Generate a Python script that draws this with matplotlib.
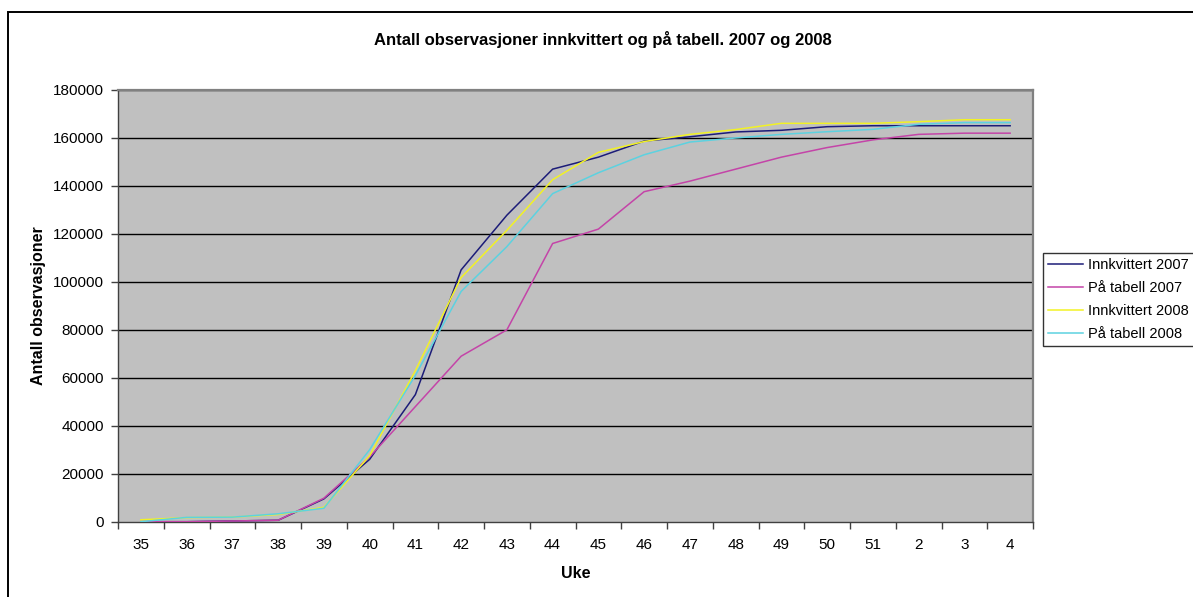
import matplotlib
matplotlib.use("Agg")
import matplotlib.pyplot as plt
from matplotlib.patches import Rectangle
from matplotlib.ticker import FixedLocator, NullFormatter

plt.rcParams['font.family'] = ['Liberation Sans', 'DejaVu Sans']

weeks = ['35', '36', '37', '38', '39', '40', '41', '42', '43', '44', '45', '46',
         '47', '48', '49', '50', '51', '2', '3', '4']
innk2007 = [0, 0, 300, 600, 9500, 26000, 53000, 105000, 127800, 147000, 152000, 158700,
            160500, 162500, 163200, 164700, 165100, 165100, 165100, 165100]
tab2007 = [0, 0, 300, 600, 9800, 27000, 48000, 69000, 80000, 116000, 122000, 137600,
           142000, 147000, 152000, 156000, 159200, 161500, 162000, 162000]
innk2008 = [800, 1700, 1900, 3000, 6000, 27500, 63000, 101800, 121500, 142600, 154000, 158500,
            161500, 163500, 166100, 166100, 166100, 166800, 167600, 167600]
tab2008 = [0, 1800, 1900, 3300, 5600, 30000, 61000, 96000, 114700, 136800, 145500, 153000,
           158300, 160000, 161500, 162600, 163600, 165700, 166400, 166400]

series = [
    ("Innkvittert 2007", innk2007, "#1c1c78"),
    ("På tabell 2007", tab2007, "#c444a8"),
    ("Innkvittert 2008", innk2008, "#f2f224"),
    ("På tabell 2008", tab2008, "#5cd2e0"),
]

W, H = 1193, 597
fig = plt.figure(figsize=(W / 100, H / 100), dpi=100)
fig.patch.set_facecolor('white')

L, R, T, B = 118, 1033, 90, 521.7
ax = fig.add_axes([L / W, 1 - B / H, (R - L) / W, (B - T) / H])
ax.set_facecolor('#c0c0c0')

x = list(range(len(weeks)))
handles = []
for i, (name, vals, col) in enumerate(series):
    h, = ax.plot(x, vals, color=col, lw=1.1, label=name, zorder=3 + i, solid_joinstyle='miter')
    handles.append(h)

ax.set_xlim(-0.5, len(weeks) - 0.5)
ax.set_ylim(0, 180000)
yt = list(range(0, 180001, 20000))
ax.set_yticks(yt)
ax.set_yticklabels([str(v) for v in yt], fontsize=11)
for v in yt[1:]:
    ax.axhline(v, color='black', lw=1.0, zorder=1)

ax.set_xticks(x)
ax.set_xticklabels(weeks, fontsize=11)
ax.tick_params(axis='x', which='major', length=0, pad=12)
ax.xaxis.set_minor_locator(FixedLocator([i - 0.5 for i in range(len(weeks) + 1)]))
ax.xaxis.set_minor_formatter(NullFormatter())
ax.tick_params(axis='x', which='minor', length=5, width=1, color='#404040', direction='out')
ax.tick_params(axis='y', length=5, width=1, color='#404040', direction='out', pad=5)

for s in ['left', 'bottom']:
    ax.spines[s].set_color('#404040')
    ax.spines[s].set_linewidth(1.0)
for s in ['top', 'right']:
    ax.spines[s].set_color('#808080')
    ax.spines[s].set_linewidth(1.6)

ax.set_xlabel('Uke', fontsize=11.5, fontweight='bold', labelpad=10)
ax.set_ylabel('Antall observasjoner', fontsize=11.5, fontweight='bold', labelpad=5)

fig.text(603 / W, 1 - 40 / H, 'Antall observasjoner innkvittert og på tabell. 2007 og 2008',
         ha='center', va='center', fontsize=12, fontweight='bold')

leg = fig.legend(handles=handles, loc='upper left', bbox_to_anchor=(1043 / W, 1 - 253 / H),
                 fontsize=10.5, frameon=True, fancybox=False, edgecolor='black',
                 handlelength=2.4, handletextpad=0.35, labelspacing=0.62, borderpad=0.35,
                 borderaxespad=0)
leg.get_frame().set_linewidth(1.0)

fig.patches.append(Rectangle((8 / W, -0.2), 1.5, 1 - 12 / H + 0.2, transform=fig.transFigure,
                             fill=False, edgecolor='black', lw=1.4))

fig.savefig('out.png', dpi=100)
